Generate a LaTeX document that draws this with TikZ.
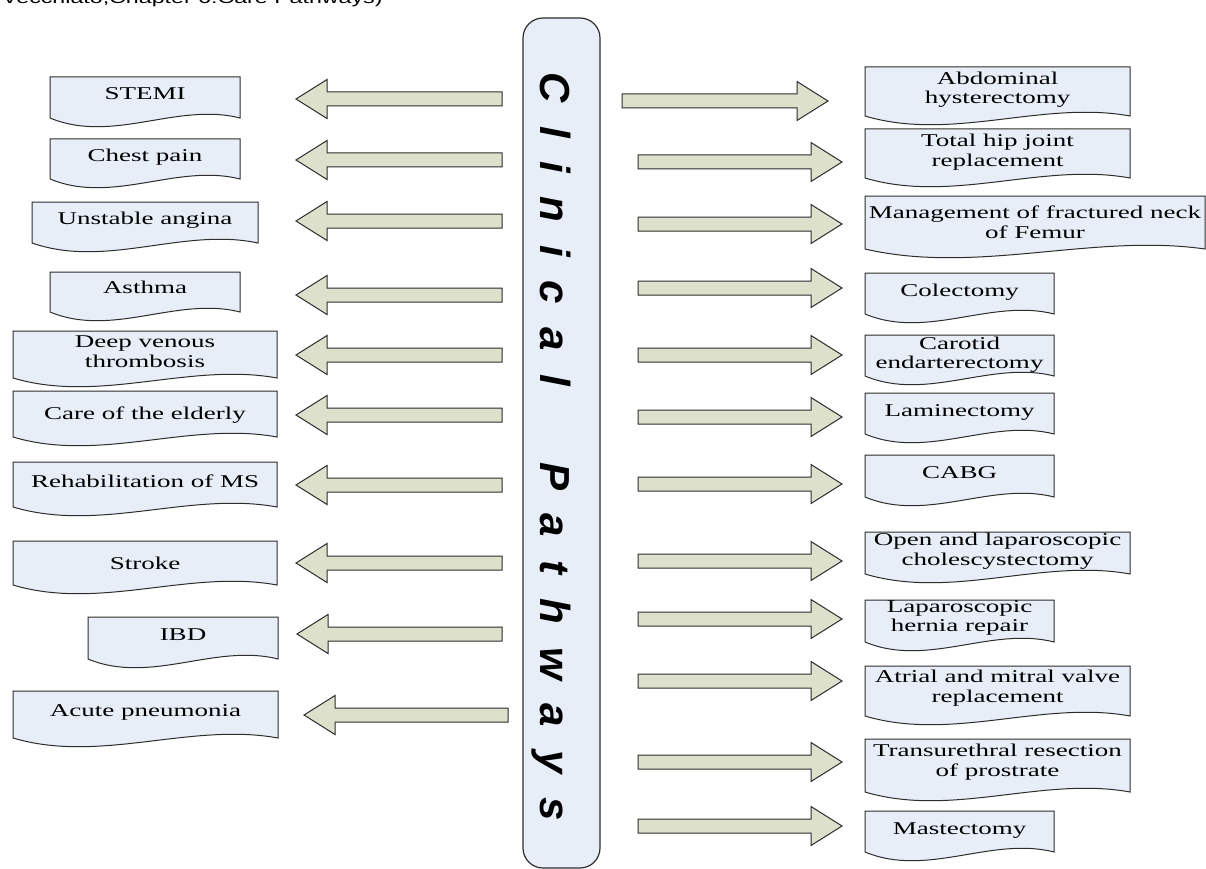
\documentclass[tikz,border=0pt]{standalone}
\usepackage{fontspec}
\setmainfont{Liberation Serif}
\newfontfamily\boxfont{Liberation Serif}[FakeStretch=1.5]
\newfontfamily\capfont{Liberation Sans}[FakeStretch=1.45]
\newfontfamily\cpfont{Liberation Sans}[UprightFont=* Bold Italic, LetterSpace=56]
\definecolor{boxfill}{RGB}{232,238,248}
\definecolor{arrowfill}{RGB}{221,225,204}
\definecolor{edge}{RGB}{45,45,45}
\tikzset{
  docshape/.style={fill=boxfill, draw=edge, line width=1pt, line join=miter},
  doctext/.style={font=\boxfont\fontsize{18}{19.5}\selectfont, align=center, inner sep=0pt},
  blockarrow/.style={fill=arrowfill, draw=edge, line width=1pt, line join=miter},
  pill/.style={fill=boxfill, draw=edge, line width=1.2pt, rounded corners=20pt,
    minimum width=77pt, minimum height=850pt, inner sep=0pt},
  cpword/.style={rotate=-90, anchor=base west, inner sep=0pt,
    font=\cpfont\fontsize{42}{44}\selectfont},
  captext/.style={anchor=base west, inner sep=0pt, font=\capfont\fontsize{16}{18}\selectfont}
}
% name, x0, ytop, x1, ybottom, text centre y, text
\newcommand\docbox[7]{%
  \draw[docshape] (#2,#3) -- (#4,#3) -- (#4,#5)
    .. controls ({#2+0.67*(#4-#2)},{#5-16}) and ({#2+0.33*(#4-#2)},{#5+26}) .. (#2,#5) -- cycle;
  \node[doctext] (#1) at ({(#2+#4)/2},#6) {#7};
}
% left-pointing block arrow: y, tip x, tail x
\newcommand\leftarr[3]{%
  \draw[blockarrow] (#2,#1) -- ({#2+31},{#1-19.5}) -- ({#2+31},{#1-7}) -- (#3,{#1-7})
    -- (#3,{#1+7}) -- ({#2+31},{#1+7}) -- ({#2+31},{#1+19.5}) -- cycle;
}
% right-pointing block arrow: y, tail x, tip x
\newcommand\rightarr[3]{%
  \draw[blockarrow] (#3,#1) -- ({#3-31},{#1-19.5}) -- ({#3-31},{#1-7}) -- (#2,{#1-7})
    -- (#2,{#1+7}) -- ({#3-31},{#1+7}) -- ({#3-31},{#1+19.5}) -- cycle;
}
\begin{document}
\begin{tikzpicture}[x=1pt,y=-1pt]
\useasboundingbox (0,0) rectangle (1206,869);
\fill[white] (0,0) rectangle (1206,869);

\node[captext] (cap) at (2,3.5) {Vecchiato,Chapter 6:Care Pathways)};

% central pill
\node[pill] (cp) at (561.5,443) {};
\node[cpword] (w1) at (540,72) {Clinical};
\node[cpword] (w2) at (540,462) {Pathways};

% left column
\docbox{stemi}{50}{77}{240}{118}{94}{STEMI}
\docbox{chest}{50}{139}{240}{179}{157.5}{Chest pain}
\docbox{unstable}{32}{202}{258}{243}{220.5}{Unstable angina}
\docbox{asthma}{50}{272}{240}{312}{287}{Asthma}
\docbox{deep}{13}{331}{277}{378}{351.5}{Deep venous\\thrombosis}
\docbox{care}{13}{391}{277}{437}{415.5}{Care of the elderly}
\docbox{rehab}{13}{462}{277}{507}{481}{Rehabilitation of MS}
\docbox{stroke}{13}{541}{277}{585}{563}{Stroke}
\docbox{ibd}{88}{617}{278}{659}{635}{IBD}
\docbox{acute}{13}{691}{278}{738}{712.5}{Acute pneumonia}

\leftarr{99}{296}{502}
\leftarr{160}{296}{502}
\leftarr{221}{296}{502}
\leftarr{295}{296}{502}
\leftarr{355}{296}{502}
\leftarr{415}{296}{502}
\leftarr{485}{296}{502}
\leftarr{563}{296}{502}
\leftarr{634}{297}{502}
\leftarr{715}{304}{508}

% right column
\docbox{abd}{865}{67}{1130}{116}{89.5}{Abdominal\\hysterectomy}
\docbox{hip}{865}{129}{1130}{178}{152}{Total hip joint\\replacement}
\docbox{mgmt}{865}{196}{1205}{249}{222}{Management of fractured neck\\of Femur}
\docbox{colec}{865}{273}{1054}{314}{292.5}{Colectomy}
\docbox{carotid}{865}{335}{1054}{376}{354.5}{Carotid\\endarterectomy}
\docbox{lamin}{865}{393}{1054}{434}{412.5}{Laminectomy}
\docbox{cabg}{865}{455}{1054}{497}{473}{CABG}
\docbox{open}{865}{532}{1130}{574}{551}{Open and laparoscopic\\cholescystectomy}
\docbox{hernia}{865}{600}{1054}{642}{618}{Laparoscopic\\hernia repair}
\docbox{atrial}{865}{666}{1130}{716}{688}{Atrial and mitral valve\\replacement}
\docbox{trans}{865}{739}{1130}{792}{762}{Transurethral resection\\of prostrate}
\docbox{mast}{865}{811}{1054}{852}{830.5}{Mastectomy}

\rightarr{101}{622}{828}
\rightarr{162}{638}{842}
\rightarr{224}{638}{842}
\rightarr{288}{638}{842}
\rightarr{355}{638}{842}
\rightarr{417}{638}{842}
\rightarr{484}{638}{842}
\rightarr{561}{638}{842}
\rightarr{619}{638}{842}
\rightarr{681}{638}{842}
\rightarr{762}{638}{842}
\rightarr{826}{638}{842}
\end{tikzpicture}
\end{document}
